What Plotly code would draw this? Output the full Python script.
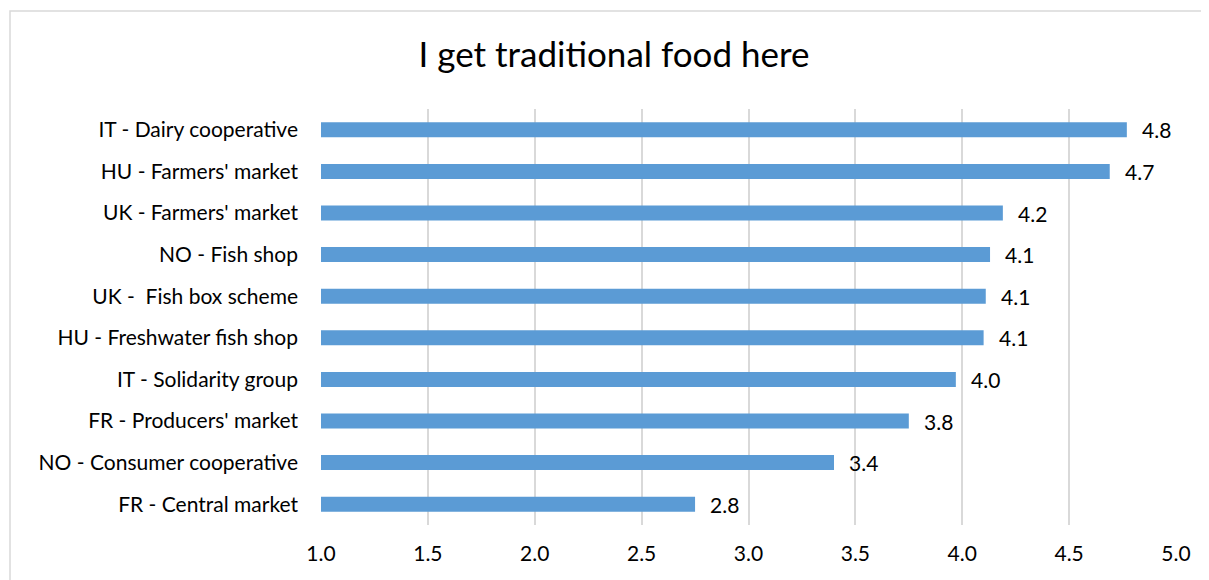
import plotly.graph_objects as go

categories = [
    "IT - Dairy cooperative",
    "HU - Farmers' market",
    "UK - Farmers' market",
    "NO - Fish shop",
    "UK -  Fish box scheme",
    "HU - Freshwater fish shop",
    "IT - Solidarity group",
    "FR - Producers' market",
    "NO - Consumer cooperative",
    "FR - Central market",
]
values = [4.77, 4.69, 4.19, 4.13, 4.11, 4.10, 3.97, 3.75, 3.40, 2.75]
labels = ["4.8", "4.7", "4.2", "4.1", "4.1", "4.1", "4.0", "3.8", "3.4", "2.8"]
tick_vals = [1.0, 1.5, 2.0, 2.5, 3.0, 3.5, 4.0, 4.5, 5.0]
tick_text = ["1.0", "1.5", "2.0", "2.5", "3.0", "3.5", "4.0", "4.5", "5.0"]
axis_base = 1.0

FONT = "Lato"

fig = go.Figure(
    go.Bar(
        y=categories,
        x=[v - axis_base for v in values],
        base=axis_base,
        orientation="h",
        width=0.36,
        marker=dict(color="#5B9BD5", line=dict(width=0)),
        hoverinfo="skip",
    )
)

for c, v, t in zip(categories, values, labels):
    fig.add_annotation(
        x=v, y=c, xref="x", yref="y", text=t, showarrow=False,
        xanchor="left", xshift=13, font=dict(family=FONT, size=21, color="#000000"),
    )

W, H = 1209, 580
L, R, T, B = 313, 41, 101, 63
pw, ph = W - L - R, H - T - B

fig.update_layout(
    width=W,
    height=H,
    margin=dict(l=L, r=R, t=T, b=B),
    paper_bgcolor="white",
    plot_bgcolor="white",
    showlegend=False,
    title=dict(
        text="I get traditional food here",
        x=606 / W,
        xanchor="center",
        y=1 - 47 / H,
        yanchor="middle",
        font=dict(family=FONT, size=35, color="#000000"),
    ),
    xaxis=dict(
        range=[1.0, 5.0],
        tickvals=tick_vals,
        ticktext=tick_text,
        showgrid=True,
        gridcolor="#D9D9D9",
        gridwidth=1.5,
        zeroline=False,
        showline=False,
        ticks="",
        ticklabelstandoff=14,
        tickfont=dict(family=FONT, size=21, color="#000000"),
    ),
    yaxis=dict(
        categoryorder="array",
        categoryarray=categories[::-1],
        autorange=False,
        range=[-0.5, 9.5],
        showgrid=False,
        zeroline=False,
        showline=False,
        ticks="",
        ticklabelstandoff=22,
        tickfont=dict(family=FONT, size=21, color="#000000"),
    ),
    shapes=[
        dict(
            type="rect", xref="paper", yref="paper",
            x0=(2 - L) / pw, x1=(W + 20 - L) / pw,
            y0=-(B + 20) / ph, y1=(H - B - 3) / ph,
            line=dict(color="#D9D9D9", width=1.5),
            fillcolor="rgba(0,0,0,0)", layer="below",
        )
    ],
)

fig.write_html("out.html")
